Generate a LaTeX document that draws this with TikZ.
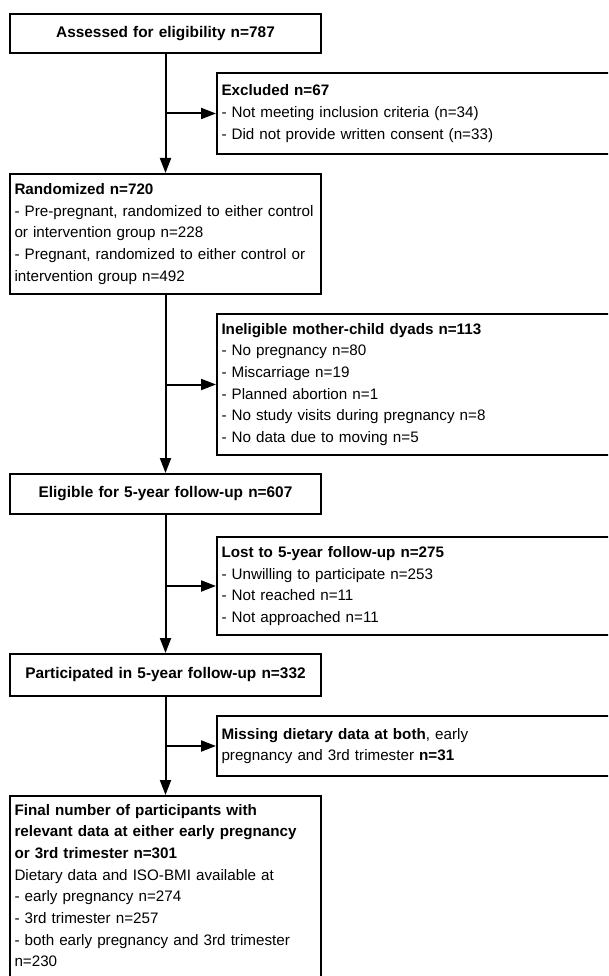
\documentclass[tikz,border=0pt]{standalone}
\usepackage{fontspec}
\setmainfont{Liberation Sans}
\usetikzlibrary{arrows.meta}

\begin{document}
\begin{tikzpicture}[x=1pt,y=-1pt,
	box/.style={draw,line width=2pt,anchor=north west,inner xsep=4.5pt,inner ysep=4pt,align=left,font=\fontsize{15.2}{21.7}\selectfont},
	headbox/.style={box,text width=302pt,align=center,font=\fontsize{15.4}{21.7}\selectfont\bfseries},
	mainbox/.style={box,text width=302pt},
	sidebox/.style={box,text width=391pt},
	arr/.style={line width=2pt,-{Triangle[length=15pt,width=11pt]}}]
	\useasboundingbox (0,0) rectangle (608,976);
	\clip (0,0) rectangle (608,976);
	\node[headbox,minimum height=39pt] (assess) at (9,13) {Assessed for eligibility n=787};
	\node[sidebox,minimum height=81pt] (excl) at (216,72) {\textbf{Excluded n=67}\\- Not meeting inclusion criteria (n=34)\\- Did not provide written consent (n=33)};
	\node[mainbox,minimum height=120pt] (rand) at (9,173) {\textbf{Randomized n=720}\\\mbox{- Pre-pregnant, randomized to either control}\\or intervention group n=228\\\mbox{- Pregnant, randomized to either control or}\\intervention group n=492\\[-3pt]};
	\node[sidebox,minimum height=141pt] (inel) at (216,313) {\textbf{Ineligible mother-child dyads n=113}\\- No pregnancy n=80\\- Miscarriage n=19\\- Planned abortion n=1\\- No study visits during pregnancy n=8\\- No data due to moving n=5};
	\node[headbox,minimum height=40pt] (elig) at (9,473) {Eligible for 5-year follow-up n=607};
	\node[sidebox,minimum height=98pt] (lost) at (216,536) {\textbf{Lost to 5-year follow-up n=275}\\- Unwilling to participate n=253\\- Not reached n=11\\- Not approached n=11};
	\node[headbox,minimum height=42pt] (part) at (9,653) {Participated in 5-year follow-up n=332};
	\node[sidebox,minimum height=60pt] (miss) at (216,715) {\textbf{Missing dietary data at both}, early\\pregnancy and 3rd trimester \textbf{n=31}};
	\node[mainbox,inner ysep=8pt] (final) at (9,795) {\textbf{Final number of participants with}\\\textbf{relevant data at either early pregnancy}\\\textbf{or 3rd trimester n=301}\\Dietary data and ISO-BMI available at\\- early pregnancy n=274\\- 3rd trimester n=257\\- both early pregnancy and 3rd trimester\\n=230\\\mbox{}};
	\draw[arr] (assess) -- (rand);
	\draw[arr] (assess.south |- excl.west) -- (excl.west);
	\draw[arr] (rand) -- (elig);
	\draw[arr] (rand.south |- inel.west) -- (inel.west);
	\draw[arr] (elig) -- (part);
	\draw[arr] (elig.south |- lost.west) -- (lost.west);
	\draw[arr] (part) -- (final);
	\draw[arr] (part.south |- miss.west) -- (miss.west);
\end{tikzpicture}
\end{document}
